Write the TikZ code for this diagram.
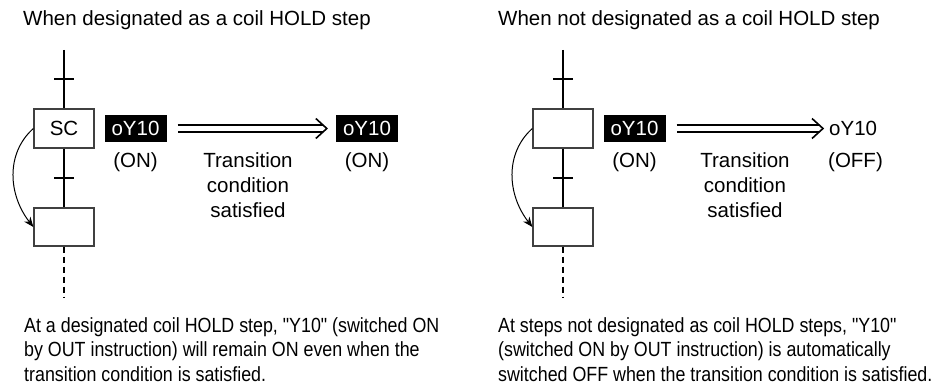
\documentclass[tikz,border=0pt]{standalone}
\usepackage{fontspec}
\setmainfont{Liberation Sans}
\newfontfamily\narrowfont{Liberation Sans}[FakeStretch=0.87]
\usetikzlibrary{calc, positioning, arrows.meta}

\tikzset{
  stepbox/.style={draw=black!75, line width=1.3pt, minimum width=60pt, minimum height=39pt, inner sep=0pt},
  coilbox/.style={fill=black, text=white, minimum width=62pt, minimum height=27pt, inner sep=0pt},
  trans/.style={line width=1.8pt},
  holdline/.style={line width=1.8pt, double distance=5.2pt},
  chevron/.style={line width=1.6pt, miter limit=20},
  jumparrow/.style={line width=1pt, -{Stealth[length=10pt, width=8pt]}},
  note/.style={anchor=base west, align=left, inner sep=0pt, font=\narrowfont\fontsize{20.5}{24.5}\selectfont},
}

\begin{document}
\begin{tikzpicture}[x=1pt, y=-1pt, font=\fontsize{20.5}{25}\selectfont]
\useasboundingbox (0,0) rectangle (932,385);

% Titles
\node[anchor=base west, inner sep=0pt] (titleA) at (23,26) {When designated as a coil HOLD step};
\node[anchor=base west, inner sep=0pt] (titleB) at (498,26) {When not designated as a coil HOLD step};

% Left chart: steps and transitions
\coordinate (topA) at (64,50);
\node[stepbox] (scA) at (64,128.5) {SC};
\node[stepbox, minimum height=38pt] (nextA) at (64,227) {};
\coordinate (endA) at (64,298);
\coordinate (tickA1) at (64,79);
\coordinate (tickA2) at (64,178);
\draw[trans] (topA) -- (scA.north);
\draw[trans] (scA.south) -- (nextA.north);
\draw[trans] ($(tickA1)+(-10,0)$) -- ($(tickA1)+(10,0)$);
\draw[trans] ($(tickA2)+(-10,0)$) -- ($(tickA2)+(10,0)$);
\draw[line width=1.3pt, dash pattern=on 6pt off 4pt] (nextA.south) -- (endA);
\draw[jumparrow] (scA.west) .. controls +(-28,25) and +(-25,-32) .. (nextA.west);

% Left: coil stays ON
\node[coilbox] (oyA1) at (135.5,128.5) {oY10};
\node (onA1) at (135.5,162) {(ON)};
\node[coilbox] (oyA2) at (367,128.5) {oY10};
\node (onA2) at (367,162) {(ON)};
\coordinate (tipA) at ($(oyA2.west)+(-9,0)$);
\draw[holdline, shorten <=11pt] (oyA1) -- ($(tipA)+(-4,0)$);
\draw[chevron] ($(tipA)+(-11,-10)$) -- (tipA) -- ($(tipA)+(-11,10)$);
\node[align=center, inner sep=0pt] (condA) at (248,185) {Transition\\condition\\satisfied};

% Right chart: steps and transitions
\coordinate (topB) at (563,50);
\node[stepbox] (stB) at (563,128.5) {};
\node[stepbox, minimum height=38pt] (nextB) at (563,227) {};
\coordinate (endB) at (563,298);
\coordinate (tickB1) at (563,79);
\coordinate (tickB2) at (563,178);
\draw[trans] (topB) -- (stB.north);
\draw[trans] (stB.south) -- (nextB.north);
\draw[trans] ($(tickB1)+(-10,0)$) -- ($(tickB1)+(10,0)$);
\draw[trans] ($(tickB2)+(-10,0)$) -- ($(tickB2)+(10,0)$);
\draw[line width=1.3pt, dash pattern=on 6pt off 4pt] (nextB.south) -- (endB);
\draw[jumparrow] (stB.west) .. controls +(-28,25) and +(-25,-32) .. (nextB.west);

% Right: coil switched OFF
\node[coilbox] (oyB1) at (634.5,128.5) {oY10};
\node (onB1) at (634.5,162) {(ON)};
\node[anchor=west, inner sep=0pt] (oyB2) at (829,128.5) {oY10};
\node (offB) at (855.5,162) {(OFF)};
\coordinate (tipB) at ($(oyB2.west)+(-6,0)$);
\draw[holdline, shorten <=11pt] (oyB1) -- ($(tipB)+(-4,0)$);
\draw[chevron] ($(tipB)+(-11,-10)$) -- (tipB) -- ($(tipB)+(-11,10)$);
\node[align=center, inner sep=0pt] (condB) at (745,185) {Transition\\condition\\satisfied};

% Notes
\node[note] (noteA) at (24,381) {At a designated coil HOLD step, "Y10" (switched ON\\by OUT instruction) will remain ON even when the\\transition condition is satisfied.};
\node[note] (noteB) at (498,381) {At steps not designated as coil HOLD steps, "Y10"\\(switched ON by OUT instruction) is automatically\\switched OFF when the transition condition is satisfied.};
\end{tikzpicture}
\end{document}
